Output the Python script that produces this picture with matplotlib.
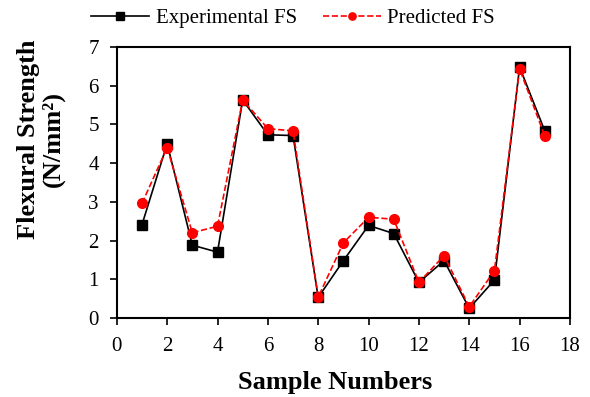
import numpy as np
import matplotlib.pyplot as plt

samples = np.arange(1, 18)
experimental_fs = [2.41, 4.50, 1.88, 1.70, 5.63, 4.73, 4.71, 0.53, 1.48,
                   2.39, 2.18, 0.92, 1.48, 0.25, 0.98, 6.48, 4.83]
predicted_fs = [2.96, 4.40, 2.20, 2.37, 5.63, 4.89, 4.83, 0.54, 1.94,
                2.60, 2.55, 0.92, 1.61, 0.29, 1.22, 6.43, 4.70]

plt.rcParams['font.family'] = ['Liberation Serif', 'DejaVu Serif']

fig = plt.figure(figsize=(5.9, 3.97), dpi=100)
ax = fig.add_axes([0.198, 0.199, 0.768, 0.683])

ax.plot(samples, experimental_fs, color='black', lw=1.2, marker='s',
        markersize=7, label='Experimental FS')
ax.plot(samples, predicted_fs, color='red', lw=1.2, ls='--', marker='o',
        markersize=7, label='Predicted FS')

ax.set_xlim(0, 18)
ax.set_ylim(0, 7)
ax.set_xticks(range(0, 19, 2))
ax.set_yticks(range(0, 8))
ax.tick_params(labelsize=15, width=1.2, length=5)
ax.tick_params(axis='x', pad=9)
ax.tick_params(axis='y', pad=8)
for s in ax.spines.values():
    s.set_linewidth(1.5)

fig.text(335 / 590, 1 - 382 / 397, 'Sample Numbers', fontsize=19,
         fontweight='bold', ha='center', va='center')
fig.text(41 / 590, 1 - 139 / 397, 'Flexural Strength\n(N/mm²)', fontsize=19,
         fontweight='bold', ha='center', va='center', rotation=90,
         multialignment='center', linespacing=1.05)

ax.legend(loc='center', bbox_to_anchor=(293 / 590, 1 - 18 / 397),
          bbox_transform=fig.transFigure, ncol=2, frameon=False,
          fontsize=15, handlelength=2.8, handletextpad=0.3,
          columnspacing=1.25, markerscale=0.75, borderpad=0)

fig.savefig('out.png', dpi=100)
